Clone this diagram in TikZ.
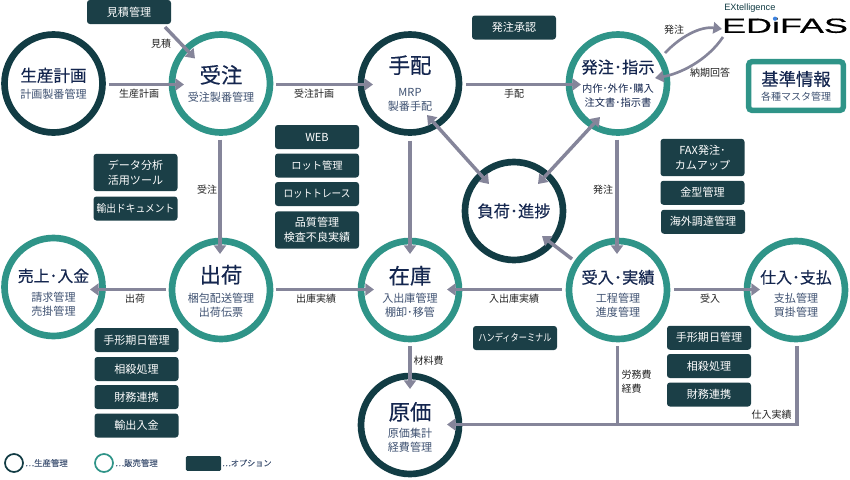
\documentclass[tikz,border=0pt]{standalone}
\usepackage{fontspec}
\setmainfont{Noto Sans CJK JP}
\newfontfamily\titlefont[FakeBold=0.35]{Noto Sans CJK JP}
\newfontfamily\legendfont[FakeBold=0.2]{Noto Sans CJK JP}
\newfontfamily\logofont[FakeBold=0.3]{Liberation Sans}
\newfontfamily\logosmall{Liberation Sans}
\usetikzlibrary{arrows.meta}
\definecolor{optdark}{HTML}{1B3F47}
\definecolor{prodring}{HTML}{123C44}
\definecolor{salesring}{HTML}{2F9488}
\definecolor{conngray}{HTML}{85859A}
\definecolor{titlecol}{HTML}{14264F}
\definecolor{subcol}{HTML}{3F5272}
\definecolor{labelcol}{HTML}{222222}
\definecolor{logoblue}{HTML}{3B82E0}
\newcommand{\tbig}{\titlefont\fontsize{16}{19}\selectfont\color{titlecol}}
\newcommand{\tmid}{\titlefont\fontsize{12.2}{15}\selectfont\color{titlecol}}
\newcommand{\tsm}{\titlefont\fontsize{11.9}{15}\selectfont\color{titlecol}}
\newcommand{\sbig}{\fontsize{8.3}{10.5}\selectfont\color{subcol}}
\newcommand{\sdrk}{\fontsize{7.7}{10.5}\selectfont\color{titlecol}}
\newcommand{\toph}[1]{\rule{0pt}{#1}}
\tikzset{
  ring/.style={circle,minimum size=73.5pt,inner sep=0pt,line width=5pt,align=center,fill=white,font=\fontsize{8.3}{10.5}\selectfont},
  prod/.style={ring,draw=prodring},
  sales/.style={ring,draw=salesring},
  optbox/.style={fill=optdark,rounded corners=2.2pt,minimum width=63pt,minimum height=18pt,inner sep=0pt,
    text=white,align=center,font=\fontsize{8.3}{11.5}\selectfont},
  optbox2/.style={optbox,minimum height=28pt},
  conn/.style={draw=conngray,line width=2.6pt,-{Triangle[length=6.5pt,width=9pt]}},
  both/.style={draw=conngray,line width=2.6pt,{Triangle[length=6.5pt,width=9pt]}-{Triangle[length=6.5pt,width=9pt]}},
  thinconn/.style={draw=conngray,line width=2pt,-{Triangle[length=6.5pt,width=8.5pt]}},
  plainline/.style={draw=conngray,line width=2.6pt},
  lab/.style={inner sep=0pt,text=labelcol,align=center,font=\fontsize{7.5}{10.5}\selectfont},
  legendtxt/.style={inner sep=0pt,text=subcol,anchor=west,font=\legendfont\fontsize{6.3}{8}\selectfont},
}
\begin{document}
\begin{tikzpicture}[x=0.75pt,y=-0.75pt]
\useasboundingbox (0,0) rectangle (850,479);
% rings
\node[prod] (plan) at (53.5,83.5) {{\titlefont\fontsize{12.4}{15}\selectfont\color{titlecol}生産計画}\\[2pt]{\sbig 計画製番管理}};
\node[sales] (ju) at (221,83.5) {{\tbig 受注}\\[3pt]{\sbig 受注製番管理}};
\node[prod] (te) at (410,83.5) {{\tbig 手配}\\[7pt]{\sbig MRP}\\{\sbig 製番手配}};
\node[sales] (ha) at (618,83.5) {{\tmid 発注･指示}\\[4pt]{\sdrk 内作･外作･購入}\\{\sdrk 注文書･指示書}};
\node[prod] (fu) at (514,211) {{\tmid 負荷･進捗}};
\node[sales] (ur) at (53.5,287) {{\tsm\toph{18pt}売上･入金}\\[4pt]{\sbig 請求管理}\\{\sbig 売掛管理}};
\node[sales] (sy) at (221,290) {{\tbig\toph{15.5pt}出荷}\\[4.5pt]{\sbig 梱包配送管理}\\{\sbig 出荷伝票}};
\node[sales] (za) at (410,290) {{\tbig\toph{16.2pt}在庫}\\[3.75pt]{\sbig 入出庫管理}\\{\sbig 棚卸･移管}};
\node[sales] (uk) at (618,290) {{\tmid\toph{16pt}受入･実績}\\[4pt]{\sbig 工程管理}\\{\sbig 進度管理}};
\node[sales] (si) at (796,290) {{\tsm\toph{15.7pt}仕入･支払}\\[4pt]{\sbig 支払管理}\\{\sbig 買掛管理}};
\node[prod] (ge) at (410,425) {{\tbig\toph{17pt}原価}\\[3pt]{\sbig 原価集計}\\{\sbig 経費管理}};
% master box
\node[draw=salesring,line width=4.1pt,rounded corners=2.5pt,minimum width=71pt,minimum height=36.5pt,inner sep=0pt,align=center,font=\fontsize{7.5}{10}\selectfont] (ki) at (796,86)
  {{\titlefont\fontsize{13}{15}\selectfont\color{titlecol}基準情報}\\[1pt]{\fontsize{7.5}{10}\selectfont\color{subcol}各種マスタ管理}};
% option boxes
\node[optbox] (est) at (129,12) {見積管理};
\node[optbox] (sho) at (514,27.5) {発注承認};
\node[optbox2] (dat) at (135.5,172.5) {データ分析\\活用ツール};
\node[optbox] (yu) at (135.5,208.5) {\scalebox{.91}[1]{\fontsize{8}{10}\selectfont 輸出ドキュメント}};
\node[optbox] (web) at (317,137) {WEB};
\node[optbox] (lot) at (317,165.5) {\fontsize{7.7}{10}\selectfont ロット管理};
\node[optbox] (ltr) at (317,194) {\scalebox{.9}[1]{\fontsize{8}{10}\selectfont ロットトレース}};
\node[optbox2] (hin) at (317,230) {品質管理\\検査不良実績};
\node[optbox2] (fax) at (702.5,157.5) {FAX発注･\\カムアップ};
\node[optbox] (kan) at (702.5,192.75) {金型管理};
\node[optbox] (kai) at (703,221.75) {海外調達管理};
\node[optbox] (te1) at (136.5,340) {手形期日管理};
\node[optbox] (so1) at (136.5,369) {相殺処理};
\node[optbox] (za1) at (136.5,397) {財務連携};
\node[optbox] (yn) at (136.5,425.5) {輸出入金};
\node[optbox] (han) at (515,338) {\scalebox{.81}[1]{\fontsize{7.6}{10}\selectfont ハンディターミナル}};
\node[optbox] (te2) at (709,337.75) {手形期日管理};
\node[optbox] (so2) at (709,366) {相殺処理};
\node[optbox] (za2) at (709,394.5) {財務連携};
% logo
\node[inner sep=0pt,anchor=west] (exl) at (724,8.5) {\logosmall\fontsize{6.9}{8}\selectfont\color{prodring}EXtelligence};
\node[inner sep=0pt,anchor=center] (logo) at (785,25.5) {\scalebox{1.75}[1]{\logofont\fontsize{15.4}{16}\selectfont\color{black}EDiFAS}};
\fill[logoblue] (775,18.7) circle[radius=2.1] coordinate (logodot);
% connectors
\coordinate (jn) at (617.5,424.5);
\draw[conn] ([shift={(55,1)}]plan.center) -- ([shift={(-37,1)}]ju.center);
\draw[conn] ([shift={(55,1)}]ju.center) -- ([shift={(-37,1)}]te.center);
\draw[conn] ([shift={(56,1)}]te.center) -- ([shift={(-37,1)}]ha.center);
\draw[conn] ([shift={(-1,56)}]ju.center) -- ([shift={(-1,-36)}]sy.center);
\draw[conn] ([shift={(0,57)}]te.center) -- ([shift={(0,-36)}]za.center);
\draw[conn] ([shift={(-1,56)}]ha.center) -- ([shift={(-1,-36)}]uk.center);
\draw[conn] ([shift={(-55,-.5)}]sy.center) -- ([shift={(36.5,2.5)}]ur.center);
\draw[conn] ([shift={(55,-.5)}]sy.center) -- ([shift={(-36,-.5)}]za.center);
\draw[conn] ([shift={(-56,-.5)}]uk.center) -- ([shift={(37,-.5)}]za.center);
\draw[conn] ([shift={(56,-.5)}]uk.center) -- ([shift={(-36,-.5)}]si.center);
\draw[conn] ([shift={(0,56)}]za.center) -- ([shift={(0,-36)}]ge.center);
\draw[conn] ([shift={(-46,-31)}]uk.center) -- ([shift={(28,25)}]fu.center);
\draw[both] ([shift={(17,31.5)}]te.center) -- ([shift={(-25,-27)}]fu.center);
\draw[both] ([shift={(-18,33.5)}]ha.center) -- ([shift={(24,-27)}]fu.center);
\draw[conn] ([shift={(36,15)}]est.center) -- ([shift={(-26,-25)}]ju.center);
\draw[thinconn] ([shift={(47,-30.5)}]ha.center) .. controls +(15,-16) and +(-22,-3) .. ([shift={(-63,3.5)}]logo.center);
\draw[thinconn] ([shift={(-62,11.5)}]logo.center) .. controls +(-16,24) and +(24,-4) .. ([shift={(37,-5.5)}]ha.center);
\draw[conn] ([shift={(1,56)}]si.center) |- ([shift={(37,-.5)}]ge.center);
\draw[plainline] ([shift={(-.5,56)}]uk.center) -- (jn);
% labels
\node[lab] (l1) at (161,44) {見積};
\node[lab] (l2) at (139,94) {生産計画};
\node[lab] (l3) at (314,94) {受注計画};
\node[lab] (l4) at (514,94) {手配};
\node[lab] (l5) at (207,190) {受注};
\node[lab] (l6) at (603,190) {発注};
\node[lab] (l7) at (674,30) {発注};
\node[lab] (l8) at (710,73) {納期回答};
\node[lab] (l9) at (135,299) {出荷};
\node[lab] (l10) at (316,299) {出庫実績};
\node[lab] (l11) at (514,299) {入出庫実績};
\node[lab] (l12) at (710,299) {受入};
\node[lab] (l13) at (428.5,361) {材料費};
\node[lab,align=left] (l14) at (636.5,382) {労務費\\経費};
\node[lab] (l15) at (771.5,415) {仕入実績};
% legend
\node[circle,draw=prodring,line width=1.3pt,minimum size=13.5pt,inner sep=0pt] (lg1) at (14,463) {};
\node[legendtxt] (lt1) at (25,463) {…生産管理};
\node[circle,draw=salesring,line width=1.3pt,minimum size=13.5pt,inner sep=0pt] (lg2) at (104,463) {};
\node[legendtxt] (lt2) at (115,463) {…販売管理};
\node[fill=optdark,rounded corners=1pt,minimum width=26.5pt,minimum height=11pt,inner sep=0pt] (lg3) at (203.5,463.5) {};
\node[legendtxt,font=\legendfont\fontsize{6.1}{8}\selectfont] (lt3) at (222,463) {…オプション};
\end{tikzpicture}
\end{document}
